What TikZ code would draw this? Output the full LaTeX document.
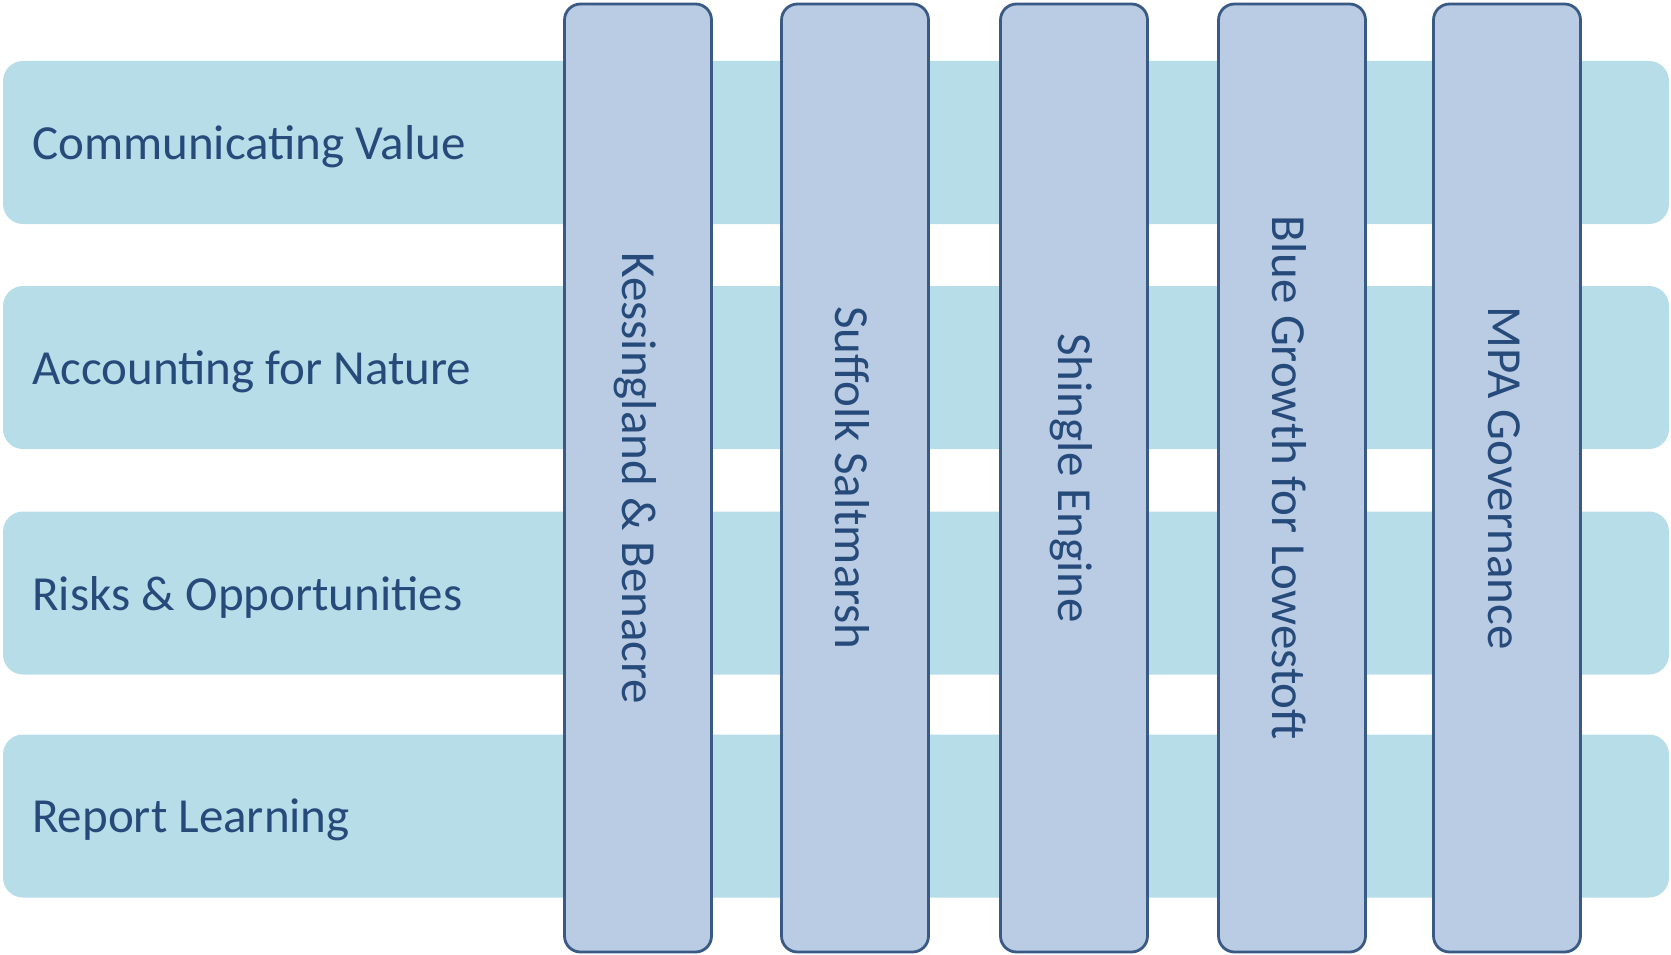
\documentclass[tikz,border=0pt]{standalone}
\usepackage{fontspec}
\setmainfont{Carlito}
\usepackage{xcolor}
\usetikzlibrary{positioning}
\definecolor{bandfill}{HTML}{B7DDE8}
\definecolor{colfill}{HTML}{B9CCE4}
\definecolor{coledge}{HTML}{3A5A86}
\definecolor{labeltext}{HTML}{264A7A}

\begin{document}
\begin{tikzpicture}[x=1pt, y=-1pt,
    band/.style={rectangle, rounded corners=20pt, fill=bandfill, minimum width=1666pt, minimum height=163pt, inner sep=0pt},
    themebox/.style={rectangle, rounded corners=16pt, fill=colfill, draw=coledge, line width=2.8pt, minimum width=147pt, minimum height=948pt, inner sep=0pt},
    rowlabel/.style={anchor=west, text=labeltext, font=\fontsize{49}{58}\selectfont, inner sep=0pt},
    collabel/.style={rotate=-90, text=labeltext, font=\fontsize{49}{58}\selectfont, inner sep=0pt}]
    \useasboundingbox (0,0) rectangle (1671,955);

    % Rows
    \node[band] (rowA) at (836,142.5) {};
    \node[band] (rowB) at (836,367.5) {};
    \node[band] (rowC) at (836,593) {};
    \node[band] (rowD) at (836,816) {};

    \node[rowlabel] (labA) at (32,146.5) {Communicating Value};
    \node[rowlabel] (labB) at (32,371.5) {Accounting for Nature};
    \node[rowlabel] (labC) at (32,597) {Risks \& Opportunities};
    \node[rowlabel] (labD) at (32,820) {Report Learning};

    % Columns
    \node[themebox] (kess) at (638,478) {};
    \node[themebox] (suff) at (855,478) {};
    \node[themebox] (shin) at (1074,478) {};
    \node[themebox] (blue) at (1292,478) {};
    \node[themebox] (mpa)  at (1507,478) {};

    \node[collabel] (kessT) at ([xshift=-3pt]kess.center) {Kessingland \& Benacre};
    \node[collabel] (suffT) at ([xshift=-3pt]suff.center) {Suffolk Saltmarsh};
    \node[collabel] (shinT) at ([xshift=-3pt]shin.center) {Shingle Engine};
    \node[collabel] (blueT) at ([xshift=-3pt]blue.center) {Blue Growth for Lowestoft};
    \node[collabel] (mpaT)  at ([xshift=-3pt]mpa.center)  {MPA Governance};
\end{tikzpicture}
\end{document}
